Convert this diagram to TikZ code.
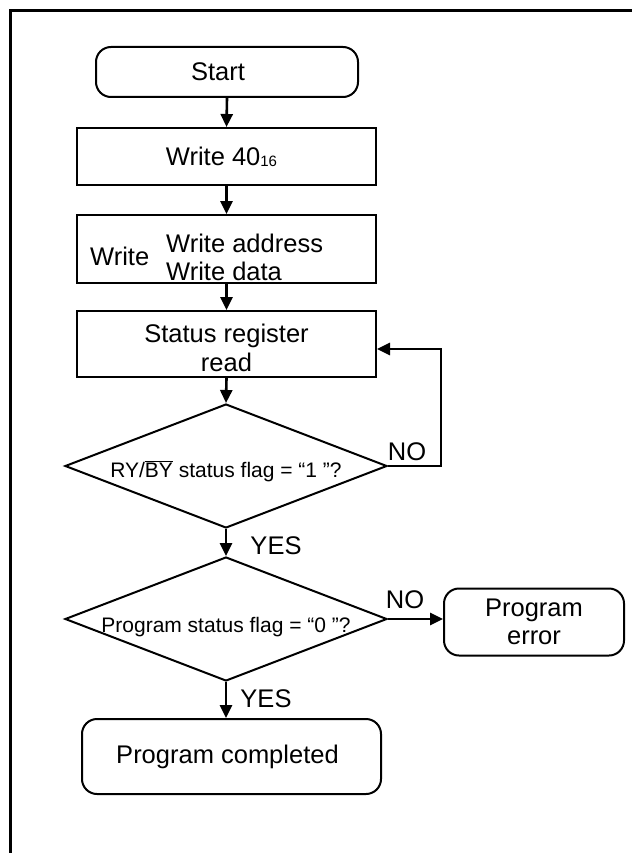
\documentclass[tikz,border=0pt]{standalone}
\usepackage{fontspec}
\setmainfont{Liberation Sans}
\usetikzlibrary{shapes.geometric,arrows.meta}
\begin{document}
\begin{tikzpicture}[x=1pt,y=-1pt,
 every node/.style={font=\fontsize{25.5}{28}\selectfont},
 rbox/.style={draw,line width=2pt,rounded corners=15pt,align=center,inner sep=0pt},
 sbox/.style={draw,line width=2pt,align=center,inner sep=0pt},
 dec/.style={draw,line width=2pt,diamond,aspect=2.6,inner sep=0pt,minimum width=322pt,minimum height=124pt,font=\fontsize{21}{24}\selectfont},
 arr/.style={line width=2.6pt,-{Triangle[width=12pt,length=13pt]}},
 lbl/.style={inner sep=0pt}
]
\useasboundingbox (0,0) rectangle (632,853);
\draw[line width=3pt] (10.5,853) -- (10.5,10.5) -- (632,10.5);

\node[rbox,minimum width=262pt,minimum height=50pt] (start) at (227,72) {\hspace*{-18pt}Start};
\node[sbox,minimum width=299pt,minimum height=57pt] (w40) at (226.5,156.5) {\hspace*{-10pt}Write 40\raisebox{-1pt}{\fontsize{15}{15}\selectfont 16}};
\node[sbox,minimum width=299pt,minimum height=68pt] (wr) at (226.5,249) {};
\node[lbl,anchor=west] (wl) at (90,256) {Write};
\node[lbl,anchor=west,align=left] (wad) at (166,257) {Write address\\Write data};
\node[sbox,minimum width=299pt,minimum height=66pt] (st) at (226.5,344) {\rule{0pt}{27pt}Status register\\[1pt]read};
\node[dec] (d1) at (226,466) {\raisebox{-11pt}[0pt][0pt]{RY/$\overline{\mbox{BY}}$ status flag = “1 ”?}};
\node[dec] (d2) at (226,619) {\raisebox{-13pt}[0pt][0pt]{Program status flag = “0 ”?}};
\node[rbox,minimum width=180pt,minimum height=67pt] (pe) at (534,622) {Program\\error};
\node[rbox,minimum width=299pt,minimum height=75pt] (pc) at (231.5,756.5) {\hspace*{-8pt}Program completed};

\draw[arr] (start.south) -- (w40.north);
\draw[arr] (w40.south) -- (wr.north);
\draw[arr] (wr.south) -- (st.north);
\draw[arr] (st.south) -- (d1.north);
\draw[arr] (d1.south) -- (d2.north);
\draw[arr] (d2.south) -- (d2.south |- pc.north);
\draw[arr] (d2.east) -- (d2.east -| pe.west);
\coordinate (fb) at (441,349);
\draw[arr] (d1.east) -| (fb) -- (fb -| st.east);

\node[lbl] (no1) at (407,452) {NO};
\node[lbl] (yes1) at (276,546) {YES};
\node[lbl] (no2) at (405,600) {NO};
\node[lbl] (yes2) at (266,699) {YES};
\end{tikzpicture}
\end{document}
